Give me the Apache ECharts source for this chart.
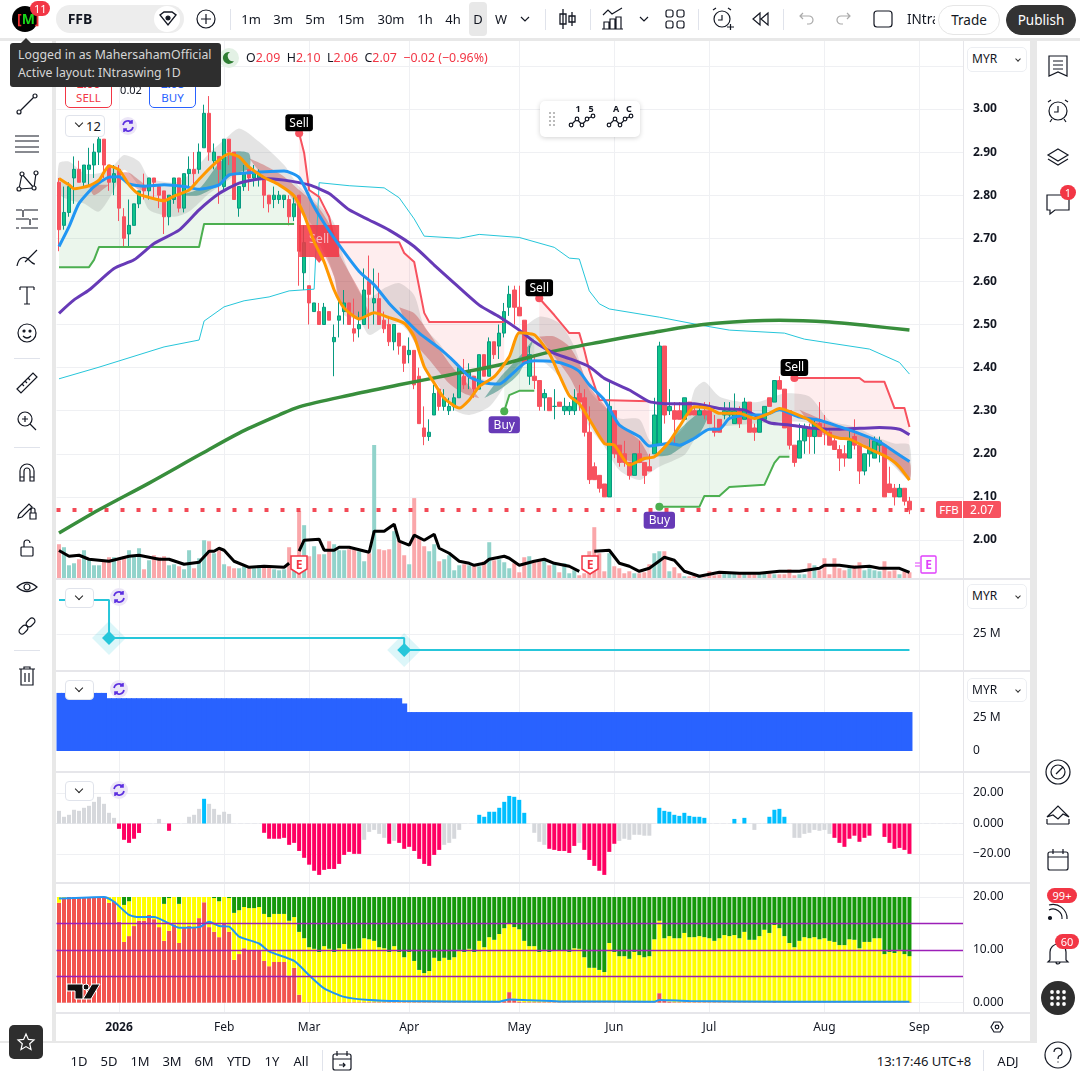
<!DOCTYPE html>
<html><head><meta charset="utf-8"><title>FFB</title>
<script src="https://cdn.jsdelivr.net/npm/echarts@6/dist/echarts.min.js"></script>
<style>
html,body{margin:0;padding:0;width:1080px;height:1080px;overflow:hidden;background:#e8e8e8;font-family:"Noto Sans",sans-serif;color:#131722}
#c{position:absolute;left:0;top:0;width:1080px;height:1080px}
.a{position:absolute;white-space:nowrap}
.t{position:absolute;white-space:nowrap;font-size:13px;line-height:16px;transform:translate(-50%,-50%)}
.w{position:absolute;background:#fff}
.g{position:absolute;background:#e6e6ea}
svg.i{position:absolute;overflow:visible;fill:none;stroke:#131722;stroke-width:1.2}
.sel{position:absolute;left:967px;width:58px;height:23px;border:1px solid #eceef2;border-radius:5px;background:#fff;font-size:12px;line-height:23px;text-indent:3px}
.sel:after{content:"";position:absolute;right:6px;top:9px;width:3px;height:3px;border-right:1px solid #333;border-bottom:1px solid #333;transform:rotate(45deg)}
.chev{position:absolute;left:65px;width:27px;height:18px;border:1px solid #e0e3eb;border-radius:4px;background:#fff}
.chev:after,.c12:after{content:"";position:absolute;left:10px;top:4px;width:5px;height:5px;border-right:1.3px solid #222;border-bottom:1.3px solid #222;transform:rotate(45deg)}
.badge{position:absolute;background:#f23645;color:#fff;border-radius:10px;font-size:11px;line-height:15px;padding:0 4px;text-align:center}
.pill{position:absolute;border-radius:15px;font-size:13.5px;line-height:28px;text-align:center}
</style></head><body>
<div id="c"></div><div id="ui"></div>
<script>
// ---------- values ----------
const barCount = 171;
const slotCount = 182;
const monthTicks = {12:'2026',33:'Feb',50:'Mar',70:'Apr',92:'May',111:'Jun',130:'Jul',153:'Aug',172:'Sep'};

const opens = [2.83,2.73,2.76,2.84,2.86,2.83,2.86,2.87,2.90,2.93,2.87,2.83,2.86,2.75,2.71,2.73,2.78,2.82,2.81,2.84,
2.82,2.81,2.75,2.79,2.84,2.77,2.85,2.86,2.86,2.91,2.99,2.88,2.89,2.82,2.93,2.90,2.77,2.82,2.86,2.84,
2.84,2.84,2.80,2.79,2.79,2.79,2.79,2.75,2.80,2.62,2.59,2.53,2.53,2.50,2.53,2.46,2.51,2.53,2.55,2.49,
2.49,2.50,2.60,2.55,2.56,2.51,2.50,2.46,2.48,2.45,2.43,2.44,2.38,2.26,2.24,2.29,2.35,2.31,2.30,2.31,
2.33,2.38,2.38,2.38,2.35,2.43,2.38,2.46,2.45,2.48,2.54,2.58,2.54,2.51,2.38,2.38,2.37,2.33,2.33,2.31,
2.32,2.30,2.30,2.30,2.34,2.33,2.25,2.17,2.15,2.13,2.10,2.30,2.22,2.20,2.18,2.15,2.20,2.18,2.17,2.20,
2.22,2.45,2.30,2.30,2.30,2.28,2.32,2.30,2.29,2.30,2.30,2.26,2.28,2.29,2.29,2.27,2.30,2.28,2.32,2.26,
2.25,2.28,2.33,2.32,2.37,2.35,2.30,2.22,2.19,2.23,2.26,2.24,2.27,2.26,2.25,2.23,2.21,2.20,2.19,2.24,
2.22,2.16,2.20,2.19,2.22,2.22,2.13,2.12,2.10,2.12,2.09];
const highs = [2.84,2.82,2.83,2.89,2.88,2.87,2.91,2.92,2.95,2.93,2.87,2.87,2.87,2.77,2.79,2.78,2.81,2.85,2.84,2.84,
2.82,2.81,2.80,2.84,2.84,2.85,2.89,2.90,2.92,3.01,3.03,2.92,2.89,2.93,2.93,2.90,2.82,2.87,2.86,2.87,
2.86,2.84,2.80,2.82,2.81,2.80,2.80,2.80,2.80,2.73,2.59,2.55,2.55,2.55,2.53,2.50,2.56,2.58,2.55,2.56,
2.53,2.63,2.66,2.63,2.62,2.53,2.52,2.50,2.48,2.45,2.47,2.44,2.40,2.31,2.28,2.36,2.35,2.35,2.33,2.34,
2.40,2.42,2.41,2.38,2.43,2.43,2.47,2.46,2.50,2.55,2.59,2.59,2.59,2.51,2.45,2.43,2.37,2.35,2.33,2.35,
2.32,2.33,2.32,2.35,2.36,2.35,2.31,2.18,2.15,2.13,2.37,2.30,2.22,2.23,2.18,2.20,2.23,2.18,2.20,2.33,
2.46,2.45,2.35,2.32,2.32,2.33,2.32,2.31,2.31,2.32,2.32,2.29,2.28,2.32,2.32,2.34,2.31,2.33,2.32,2.27,
2.28,2.31,2.33,2.37,2.38,2.35,2.30,2.22,2.27,2.27,2.27,2.28,2.32,2.29,2.26,2.24,2.22,2.22,2.26,2.28,
2.22,2.20,2.24,2.24,2.24,2.22,2.17,2.13,2.13,2.12,2.10];
const lows = [2.67,2.72,2.75,2.78,2.83,2.82,2.82,2.84,2.87,2.84,2.81,2.80,2.74,2.68,2.68,2.73,2.77,2.79,2.79,2.79,
2.77,2.71,2.73,2.78,2.76,2.76,2.82,2.82,2.85,2.91,2.88,2.86,2.78,2.81,2.87,2.79,2.75,2.81,2.81,2.82,
2.82,2.77,2.76,2.77,2.78,2.77,2.73,2.74,2.59,2.58,2.50,2.53,2.50,2.50,2.51,2.38,2.47,2.50,2.50,2.46,
2.47,2.50,2.49,2.50,2.50,2.48,2.45,2.44,2.43,2.39,2.41,2.35,2.27,2.22,2.23,2.29,2.30,2.30,2.29,2.30,
2.33,2.35,2.35,2.33,2.35,2.38,2.38,2.42,2.42,2.47,2.52,2.50,2.52,2.41,2.36,2.35,2.30,2.30,2.30,2.28,
2.31,2.29,2.29,2.29,2.30,2.24,2.13,2.14,2.11,2.10,2.10,2.19,2.17,2.17,2.14,2.15,2.18,2.13,2.16,2.20,
2.22,2.27,2.29,2.22,2.28,2.28,2.29,2.29,2.29,2.28,2.27,2.24,2.25,2.28,2.28,2.27,2.26,2.28,2.25,2.23,
2.25,2.28,2.31,2.32,2.35,2.26,2.21,2.17,2.19,2.20,2.20,2.20,2.24,2.22,2.22,2.21,2.16,2.17,2.19,2.21,
2.13,2.15,2.17,2.19,2.18,2.10,2.11,2.08,2.10,2.08,2.06];
const closes = [2.72,2.76,2.82,2.86,2.83,2.87,2.87,2.90,2.93,2.87,2.83,2.85,2.77,2.70,2.73,2.78,2.81,2.81,2.84,2.83,
2.80,2.75,2.80,2.84,2.77,2.85,2.86,2.85,2.90,2.99,2.90,2.90,2.86,2.93,2.90,2.79,2.82,2.85,2.84,2.85,
2.85,2.80,2.78,2.80,2.80,2.80,2.75,2.78,2.67,2.69,2.55,2.55,2.50,2.54,2.51,2.47,2.52,2.55,2.50,2.48,
2.50,2.58,2.57,2.56,2.50,2.49,2.46,2.50,2.45,2.41,2.44,2.36,2.27,2.24,2.25,2.34,2.31,2.33,2.31,2.33,
2.40,2.36,2.39,2.35,2.43,2.38,2.46,2.43,2.48,2.53,2.57,2.54,2.52,2.41,2.43,2.37,2.31,2.34,2.30,2.31,
2.31,2.31,2.31,2.33,2.32,2.25,2.14,2.14,2.12,2.10,2.31,2.20,2.18,2.18,2.15,2.20,2.18,2.15,2.16,2.29,
2.45,2.29,2.31,2.28,2.28,2.33,2.29,2.29,2.30,2.29,2.27,2.25,2.25,2.30,2.30,2.30,2.27,2.32,2.25,2.25,
2.28,2.31,2.31,2.37,2.35,2.26,2.22,2.18,2.23,2.26,2.24,2.27,2.24,2.25,2.22,2.21,2.19,2.19,2.23,2.22,
2.16,2.20,2.21,2.23,2.23,2.10,2.11,2.10,2.12,2.09,2.07];
const volumes = [34,31,13,15,19,28,18,13,13,17,21,21,18,22,28,23,30,9,18,23,21,22,13,14,12,9,28,10,20,38,
37,25,28,14,12,10,10,12,10,10,13,12,12,9,8,9,31,8,67,53,22,32,24,24,37,34,28,28,29,29,
27,17,25,133,29,28,29,47,38,23,14,80,40,32,27,34,17,19,23,8,13,14,13,13,12,17,36,18,19,16,
10,15,6,21,22,18,18,18,13,15,6,15,5,8,3,5,27,51,25,7,25,12,10,5,7,5,5,6,14,25,
27,27,7,11,5,2,2,3,2,1,7,3,4,6,6,6,5,5,5,4,5,6,5,4,4,4,9,3,4,4,15,13,8,20,4,20,10,8,10,13,16,8,10,8,7,17,7,8,4,7,6];
const volumeAvgA = [[0,27.7],[2,22],[4,23],[6,19],[10,17],[14,22],[16,23],[20,19],[22,19],[25,14],[28,16],[30,27],[31,27],[32,30],[33,28],[35,17],[38,11],[41,12],[45,11],[46,15]];
const volumeAvgB = [[48,27],[49,38],[52,39],[53,28],[55,28],[56,31],[58,31],[62,26],[63,47],[65,47],[67,54],[68,37],[70,33],[71,43],[73,38],[75,44],[76,30],[78,25],[80,17],[82,15],[83,13],[85,15],[86,19],[89,22],[90,20],[92,13],[95,17],[97,19],[99,15],[102,12],[104,7]];
const volumeAvgC = [[107,27],[110,28],[112,15],[114,12],[116,7],[118,10],[121,21],[123,18],[125,7],[128,2],[132,6],[136,5],[140,5],[144,7],[148,7],[152,10],[153,13],[156,13],[159,11],[162,12],[164,10],[168,10],[170,6]];

const orangeLine = [[0,2.839],[2,2.824],[3,2.815],[6,2.822],[8,2.835],[10,2.868],[12,2.859],[14,2.824],[16,2.802],[18,2.795],[21,2.787],[23,2.798],[26,2.812],[28,2.837],[31,2.872],[34,2.896],[36,2.889],[38,2.865],[41,2.841],[44,2.824],[47,2.798],[49,2.754],[51,2.692],[53,2.645],[55,2.580],[57,2.538],[60,2.513],[63,2.527],[66,2.516],[69,2.503],[71,2.472],[73,2.402],[75,2.364],[77,2.329],[80,2.306],[82,2.325],[84,2.356],[87,2.379],[90,2.425],[92,2.481],[95,2.476],[98,2.433],[100,2.383],[102,2.335],[104,2.316],[106,2.280],[109,2.224],[111,2.220],[114,2.174],[117,2.189],[119,2.193],[122,2.228],[124,2.263],[127,2.309],[130,2.305],[132,2.294],[136,2.294],[139,2.282],[142,2.294],[144,2.305],[147,2.294],[150,2.278],[154,2.244],[156,2.236],[158,2.234],[161,2.217],[164,2.201],[166,2.189],[168,2.170],[170,2.139]];
const blueLine = [[0,2.681],[2,2.727],[4,2.781],[7,2.820],[10,2.842],[12,2.843],[14,2.826],[17,2.821],[21,2.824],[25,2.820],[28,2.814],[32,2.824],[34,2.847],[38,2.852],[45,2.856],[48,2.841],[51,2.773],[53,2.735],[56,2.684],[60,2.623],[63,2.592],[66,2.549],[69,2.514],[72,2.480],[76,2.445],[79,2.414],[82,2.379],[85,2.365],[88,2.362],[90,2.379],[93,2.410],[95,2.416],[99,2.414],[102,2.404],[104,2.391],[106,2.360],[109,2.325],[112,2.267],[116,2.240],[118,2.218],[122,2.224],[124,2.220],[127,2.236],[130,2.257],[132,2.257],[134,2.282],[138,2.290],[141,2.290],[144,2.302],[148,2.285],[152,2.278],[156,2.263],[160,2.247],[164,2.228],[167,2.205],[170,2.182]];
const purpleLine = [[0,2.526],[3,2.557],[6,2.580],[11,2.630],[15,2.650],[19,2.688],[24,2.719],[28,2.766],[32,2.804],[36,2.828],[41,2.839],[45,2.835],[50,2.824],[54,2.804],[58,2.766],[62,2.7425],[66,2.719],[71,2.681],[75,2.638],[79,2.596],[84,2.545],[88,2.518],[92,2.487],[95,2.460],[99,2.433],[102,2.421],[106,2.402],[109,2.375],[114,2.348],[118,2.321],[122,2.316],[127,2.316],[132,2.305],[137,2.302],[142,2.272],[146,2.267],[151,2.259],[156,2.257],[160,2.259],[164,2.261],[168,2.257],[170,2.244]];
const greenTrend = [[0,2.016],[8,2.07],[18,2.132],[28,2.197],[36,2.248],[44,2.29],[48,2.309],[58,2.336],[68,2.36],[78,2.383],[88,2.406],[98,2.436],[108,2.459],[118,2.48],[128,2.499],[138,2.508],[144,2.51],[154,2.506],[162,2.497],[170,2.487]];
const cyanLine = [[0,2.374],[8,2.401],[21,2.448],[28,2.464],[29,2.508],[33,2.541],[37,2.555],[42,2.564],[46,2.578],[51,2.582],[52,2.829],[58,2.822],[65,2.817],[68,2.794],[71,2.745],[73,2.705],[80,2.70],[84,2.709],[92,2.702],[99,2.679],[102,2.654],[104,2.652],[106,2.578],[108,2.548],[110,2.536],[120,2.517],[128,2.499],[134,2.487],[145,2.48],[149,2.466],[162,2.443],[168,2.412],[170,2.385]];
const redStopA = [[48,2.944],[49,2.898],[50,2.812],[52,2.796],[53,2.773],[54,2.75],[55,2.696],[56,2.691],[68,2.691],[69,2.666],[71,2.645],[73,2.527],[74,2.506],[89,2.506]];
const redStopB = [[96,2.561],[99,2.522],[102,2.48],[104,2.48],[105,2.441],[106,2.394],[108,2.325],[118,2.322]];
const redStopC = [[147,2.376],[160,2.376],[161,2.367],[165,2.367],[167,2.306],[169,2.306],[170,2.262]];
const greenStopA = [[0,2.633],[6,2.633],[7,2.65],[8,2.68],[28,2.68],[29,2.733],[47,2.733]];
const greenStopB = [[89,2.299],[90,2.336],[92,2.346],[95,2.346]];
const greenStopC = [[120,2.077],[128,2.077],[129,2.102],[132,2.102],[134,2.123],[141,2.128],[143,2.179],[144,2.193],[146,2.193]];
// [bar, upper, lower]
const grayCloud = [[0,2.874,2.804],[2,2.878,2.789],[5,2.851,2.781],[8,2.851,2.762],[11,2.870,2.812],[13,2.893,2.859],[16,2.878,2.820],[18,2.841,2.766],[23,2.829,2.750],[26,2.847,2.762],[30,2.897,2.804],[33,2.928,2.828],[36,2.955,2.851],[40,2.924,2.847],[45,2.870,2.820],[48,2.820,2.773],[52,2.777,2.704],[55,2.735,2.611],[57,2.650,2.522],[60,2.576,2.510],[62,2.561,2.476],[65,2.584,2.495],[68,2.596,2.503],[71,2.568,2.464],[73,2.495,2.402],[76,2.456,2.356],[79,2.410,2.302],[82,2.387,2.290],[86,2.371,2.309],[89,2.402,2.356],[92,2.480,2.410],[96,2.518,2.418],[100,2.503,2.379],[103,2.449,2.325],[106,2.348,2.263],[109,2.309,2.217],[112,2.282,2.162],[116,2.280,2.139],[118,2.232,2.155],[120,2.220,2.170],[125,2.263,2.197],[127,2.348,2.232],[129,2.367,2.255],[132,2.333,2.263],[136,2.321,2.267],[140,2.321,2.271],[145,2.340,2.275],[150,2.333,2.271],[154,2.278,2.240],[159,2.263,2.232],[164,2.236,2.201],[167,2.224,2.170],[170,2.220,2.139]];
const roseBandA = [[6,2.82,2.82],[7,2.824,2.80],[10,2.824,2.824]];
const roseBandB = [[12,2.854,2.854],[14,2.852,2.831],[16,2.835,2.812],[18,2.816,2.816]];
const roseBandC = [[38,2.886,2.886],[41,2.870,2.843],[45,2.843,2.816],[48,2.812,2.766],[52,2.770,2.688],[55,2.712,2.611],[56,2.665,2.557],[60,2.580,2.510],[62,2.526,2.526]];
const roseBandD = [[68,2.540,2.540],[71,2.526,2.460],[74,2.480,2.418],[78,2.410,2.363],[81,2.371,2.340],[84,2.329,2.329]];
const roseBandE = [[96,2.472,2.472],[99,2.472,2.425],[102,2.449,2.379],[104,2.410,2.333],[106,2.356,2.278],[109,2.313,2.224],[112,2.267,2.193],[116,2.232,2.178],[118,2.193,2.193]];
const roseBandF = [[148,2.302,2.302],[152,2.282,2.247],[157,2.259,2.236],[161,2.240,2.217],[166,2.213,2.187],[170,2.182,2.139]];
const tealBandA = [[24,2.80,2.80],[28,2.815,2.80],[32,2.874,2.824],[35,2.901,2.85],[38,2.897,2.862]];
const tealBandB = [[85,2.329,2.329],[88,2.375,2.348],[92,2.425,2.387],[95,2.468,2.468]];
const tealBandC = [[119,2.193,2.193],[122,2.232,2.197],[125,2.267,2.220],[128,2.294,2.247],[130,2.290,2.290]];

const sellSignals = [[48,2.944],[96,2.561],[147,2.376]];
const buySignals = [[89,2.299],[120,2.077]];
const bigSell = [[52,2.687]];
const lastPrice = 2.07;

const cyanStep = [[0,48.6],[10,48.6],[10,22.2],[69,22.2],[69,13.9],[170,13.9]];
const cyanDiamonds = [[10,22.2],[69,13.9]];
const blueBlockSegments = [[10,44],[59,40],[1,36],[101,29.5]];

const histValues = [8.3,4.4,5.7,9,8.3,10.3,11.6,14.2,17.5,12.9,7,3.7,-3.5,-10.7,-12.7,-10,-6.2,0,0,0,3,0,-4.8,0,0,0,4.4,5.7,9.6,16.2,
12.9,9.6,5.7,7.7,6.3,0,0,0,0,0,0,-6.1,-10,-10,-10,-9.4,-14,-12.7,-18,-22.5,-27,-31,-33.7,-30.4,-29.8,-29.8,-26.5,-20.6,-18.6,-19.9,
-19.9,-10.7,-5.5,-4.2,-6.8,-9.4,-13.3,-11.4,-12.7,-16.6,-15.3,-18,-23.2,-26.5,-27.8,-20.6,-17.3,-14,-12.7,-10,-4.2,0,0,0,5.7,4.4,7.7,7.7,10.3,14.2,
18.1,17.5,15.5,7,0,-6.1,-12,-14,-16.6,-17.3,-18,-18,-19.3,-14.7,-12.7,-17.3,-23.9,-27.8,-31,-33.7,-18.6,-13.3,-11.4,-10,-10.7,-7.4,-7.4,-8,-8,0,
10.3,8.3,7.7,5.7,5,7,5,4.4,4.4,3.7,0,0,0,0,0,3,0,3.7,0,-4.2,0,0,4.4,9,9.6,4.4,0,-9.4,-9.4,-6.8,-6.1,-4.2,-4.8,-4.2,-6.8,-9.4,-12.7,-15.3,-10,-8,-12,-9.4,-8,0,0,-8.8,-12.7,-16.6,-16,-17.3,-19.9];
const histGrayBars = [0,1,2,3,4,5,6,7,8,9,10,11,20,26,27,28,30,31,32,33,34,61,62,63,64,65,67,77,78,79,80,95,96,97,104,112,113,114,115,116,117,118,139,147,148,149,150,151,152,153,154];

const redShare = [18.9,19.7,20,20,20,20,20,20,20,20,18.9,19.2,15.3,11.5,12.6,14.5,15.5,15.5,16.6,15.8,14.3,11.7,13.6,14.7,11.3,14.3,14.5,14.3,16,19,
14.3,13.4,12.4,14.9,13.4,8.1,9.2,10.3,9.8,9.8,
10,7.9,6.9,7.7,7.7,7.7,5,6.6,1.5,0.1,
0.1,0.1,0.1,0.1,0.1,0.1,0.1,0.1,0.1,0.1,
0.1,0.1,0.1,0.1,0.1,0.1,0.1,0.1,0.1,0.1,
0.1,0.1,0.1,0.1,0.1,0.1,0.1,0.1,0.1,0.1,
0.1,0.1,0.1,0.1,0.1,0.1,0.1,0.1,0.1,0.3,
2,0.8,0.2,0.1,0.1,0.1,0.1,0.1,0.1,0.1,
0.1,0.1,0.1,0.1,0.1,0.1,0.1,0.1,0.1,0.1,
0.1,0.1,0.1,0.1,0.1,0.1,0.1,0.1,0.1,0.1,
1.8,0.5,0.2,0.1,0.1,0.1,0.1,0.1,0.1,0.1,
0.1,0.1,0.1,0.1,0.1,0.1,0.1,0.1,0.1,0.1,
0.1,0.1,0.1,0.2,0.1,0.1,0.1,0.1,0.1,0.1,
0.1,0.1,0.1,0.1,0.1,0.1,0.1,0.1,0.1,0.1,
0.1,0.1,0.1,0.1,0.1,0.1,0.1,0.1,0.1,0.1,
0.1];
const yellowTop = [20,20,20,20,20,20,20,20,20,20,20,20,20,18.5,19.2,20,20,20,20,20,20,18.7,19.8,20,18.7,20,20,20,20,20,
20,19.8,19.2,20,19.8,17,17.5,18.1,17.9,17.9,18.1,16.8,16.2,16.8,16.8,16.8,15.5,16.2,13.4,12.2,10.5,10.2,9.6,10.7,10.2,9.6,10.3,11.1,10.2,10.2,
10.3,12.2,12,11.7,10.5,10.3,9.6,10.7,9.6,8.6,9.6,7.9,6.2,5.6,6,8.5,7.9,8.5,8.1,8.6,10,9.6,10.2,9.6,11.7,10.5,12.4,11.9,13,14.1,
14.9,14.3,13.9,11.7,10.7,10.7,9.6,10,9.6,9.8,9.8,9.8,9.6,10.3,10.2,8.6,6.6,6.6,6.2,5.8,11.3,9.6,8.8,8.8,8.3,9.6,9,8.6,8.8,12,
15.5,12.2,12.6,12.2,12.2,13.2,12.4,12.4,12.6,12.4,12.2,11.7,12.2,12.8,12.6,12.8,12.2,13.4,11.9,11.9,12.6,13.8,13.2,14.7,14.1,12.6,11.3,10.5,11.7,12.4,12.2,12.4,12,12.2,11.7,11.5,10.9,10.9,12,11.9,10.3,11.5,11.5,12.2,12.2,9.2,9.6,9.4,10,9.2,8.8];
const flowLine = [[0,19.7],[9,20],[11,19.1],[14,16.6],[16,16.2],[19,16.2],[22,15],[24,14.2],[28,14.3],[30,15.3],[32,14.5],[34,14.4],[36,12.5],[40,11.2],[42,9.7],[47,7.9],[50,5.2],[53,2.7],[57,1.1],[62,0.5],[68,0.3],[88,0.2],[90,0.6],[94,0.45],[100,0.25],[119,0.2],[120,0.5],[126,0.3],[146,0.2],[170,0.2]];
const flowLevels = [15,10,5];

// ---------- chart ----------
const CAT = Array.from({length:slotCount},(_,i)=>String(i));
const GL = 56.5, GW = 910.5;
const RED='#f7525f', GRN='#4caf50';
const grids = [
 {top:41,height:972},          // vertical month lines
 {top:22.8,height:560.3},      // price
 {top:438,height:140.3},       // volume
 {top:598,height:72},          // cyan step
 {top:685,height:66},          // blue block
 {top:793,height:91.5},        // histogram
 {top:897,height:105.7}        // stacked
].map(g=>({left:GL,width:GW,containLabel:false,...g}));
const xAxes = grids.map((g,i)=>({type:'category',gridIndex:i,data:CAT,boundaryGap:true,show:false,axisTick:{show:false},axisLabel:{show:false},splitLine:{show:false}}));
const isTick=i=>monthTicks[i]!==undefined;
Object.assign(xAxes[0],{show:true,axisLine:{show:false},axisLabel:{show:false},
  splitLine:{show:true,alignWithLabel:true,interval:(i)=>isTick(i),lineStyle:{color:'#eff0f3',width:1}}});
Object.assign(xAxes[5],{show:true,axisLine:{show:true,onZero:true,lineStyle:{color:'#e8e9ee',type:[4,3],width:1}},axisLabel:{show:false}});
Object.assign(xAxes[6],{show:true,axisLine:{show:false},
  axisLabel:{show:true,interval:(i)=>isTick(i),margin:19,hideOverlap:false,color:'#131722',fontSize:12,fontFamily:'Noto Sans',
    formatter:(v,i)=>monthTicks[i]==='2026'?'{b|2026}':(monthTicks[i]||''),rich:{b:{fontWeight:'bold',fontSize:12,color:'#131722',fontFamily:'Noto Sans'}}}});
const split={show:true,lineStyle:{color:'#eff0f3',width:1}};
const lbl=(f,b)=>({show:true,color:'#131722',fontSize:12,margin:6,padding:[2,0,0,0],fontFamily:'Noto Sans',fontWeight:b?'bold':'normal',formatter:f,align:'left'});
const yAxes=[
 {type:'value',gridIndex:0,min:0,max:1,show:false,splitLine:{show:false}},
 {type:'value',gridIndex:1,position:'right',min:1.9,max:3.2,interval:0.1,axisLine:{show:false},axisTick:{show:false},
  axisLabel:{...lbl(v=>v.toFixed(2),true),showMinLabel:false},splitLine:{...split,showMinLine:false,showMaxLine:false}},
 {type:'value',gridIndex:2,min:0,max:140,show:false,splitLine:{show:false}},
 {type:'value',gridIndex:3,position:'right',min:0,max:50,interval:25,axisLine:{show:false},axisTick:{show:false},
  axisLabel:lbl(v=>v===25?'25 M':''),splitLine:{...split,showMinLine:false,showMaxLine:false}},
 {type:'value',gridIndex:4,position:'right',min:0,max:50,interval:25,axisLine:{show:false},axisTick:{show:false},
  axisLabel:lbl(v=>v===25?'25 M':v===0?'0':''),splitLine:{show:false}},
 {type:'value',gridIndex:5,position:'right',min:-40,max:20,interval:20,axisLine:{show:false},axisTick:{show:false},
  axisLabel:lbl(v=>v===20?'20.00':v===0?'0.000':v===-20?'\u221220.00':''),splitLine:{...split,showMinLine:false}},
 {type:'value',gridIndex:6,position:'right',min:0,max:20,interval:10,axisLine:{show:false},axisTick:{show:false},
  axisLabel:lbl(v=>v===0?'0.000':v.toFixed(2)),splitLine:split}
];
// filled bands drawn through the axes
const polygon=(pts,fill,z,sm)=>({type:'custom',xAxisIndex:1,yAxisIndex:1,coordinateSystem:'cartesian2d',silent:true,z,data:[[0,2.5]],clip:true,
  renderItem:(p,api)=>({type:'polygon',shape:{points:pts.map(q=>api.coord(q)),smooth:sm||0},style:{fill}})});
const band=(rows,fill,z=1)=>polygon([...rows.map(r=>[r[0],r[1]]),...rows.slice().reverse().map(r=>[r[0],r[2]])],fill,z,0.25);
const between=(upper,lower,fill)=>{const a=upper[0][0],b=upper[upper.length-1][0];
  const inner=lower.filter(q=>q[0]>a&&q[0]<b);
  const at=(arr,x)=>{for(let k=1;k<arr.length;k++){if(arr[k][0]>=x){const t=(x-arr[k-1][0])/(arr[k][0]-arr[k-1][0]);return arr[k-1][1]+t*(arr[k][1]-arr[k-1][1]);}}return arr[arr.length-1][1];};
  const low=[[a,at(lower,a)],...inner,[b,at(lower,b)]];
  return polygon([...upper,...low.reverse()],fill,1);};
const line=(data,color,width,z=5,extra={})=>({type:'line',xAxisIndex:1,yAxisIndex:1,data,symbol:'none',silent:true,z,lineStyle:{color,width,join:'round'},...extra});
const smooth={smooth:0.2};
const pRed='rgba(242,54,69,0.09)', pGrn='rgba(76,175,80,0.11)', gray='rgba(110,110,110,0.19)', rose='rgba(190,50,50,0.36)', teal='rgba(0,110,95,0.42)';

const series=[
 band(grayCloud,gray,2),
 between(greenStopA,orangeLine,pGrn), between(greenStopB,orangeLine,pGrn), between(greenStopC,orangeLine,pGrn),
 between(redStopA,orangeLine,pRed), between(redStopB,orangeLine,pRed), between(redStopC,orangeLine,pRed),
 band(roseBandA,rose,2),band(roseBandB,rose,2),band(roseBandC,rose,2),band(roseBandD,rose,2),band(roseBandE,rose,2),band(roseBandF,rose,2),
 band(tealBandA,teal,2),band(tealBandB,teal,2),band(tealBandC,teal,2),
 {type:'bar',xAxisIndex:2,yAxisIndex:2,barWidth:4,silent:true,z:1,
  data:volumes.map((v,i)=>({value:v,itemStyle:{color:closes[i]>=opens[i]?'#92d3cb':'#faa7aa'}}))},
 {type:'candlestick',xAxisIndex:1,yAxisIndex:1,barWidth:4,silent:true,z:3,
  data:opens.map((o,i)=>[o,closes[i],lows[i],highs[i]]),
  itemStyle:{color:'#0fc489',color0:RED,borderColor:'#089981',borderColor0:RED,borderWidth:1}},
 {type:'scatter',xAxisIndex:1,yAxisIndex:1,data:bigSell,silent:true,z:4,symbol:'path://M0,0H40V32H25L20,38L15,32H0Z',symbolSize:[40,38],
  itemStyle:{color:'rgba(242,54,69,0.86)',opacity:1},label:{show:true,position:'inside',offset:[0,-4],formatter:'Sell',color:'rgba(255,255,255,0.6)',fontSize:12.5,fontFamily:'Noto Sans'}},
 line(cyanLine,'#26c6da',1,4),
 line(redStopA,RED,2,4),line(redStopB,RED,2,4),line(redStopC,RED,2,4),
 line(greenStopA,GRN,2,4),line(greenStopB,GRN,2,4),line(greenStopC,GRN,2,4),
 line(greenTrend,'#388e3c',3.5,5,{smooth:0.3}),
 line(purpleLine,'#673ab7',3,5,smooth),
 line(blueLine,'#2196f3',3,6,smooth),
 line(orangeLine,'#ff9800',3,6,smooth),
 {type:'line',xAxisIndex:2,yAxisIndex:2,data:volumeAvgA,symbol:'none',silent:true,z:5,lineStyle:{color:'#000',width:3}},
 {type:'line',xAxisIndex:2,yAxisIndex:2,data:volumeAvgB,symbol:'none',silent:true,z:5,lineStyle:{color:'#000',width:3}},
 {type:'line',xAxisIndex:2,yAxisIndex:2,data:volumeAvgC,symbol:'none',silent:true,z:5,lineStyle:{color:'#000',width:3}},
 {type:'line',xAxisIndex:1,yAxisIndex:1,data:[],silent:true,z:5,
  markLine:{silent:true,symbol:'none',animation:false,label:{show:false},lineStyle:{color:'#f23645',type:[4,12],width:4,opacity:0.9},data:[{yAxis:lastPrice}]}},
 {type:'scatter',xAxisIndex:1,yAxisIndex:1,data:sellSignals,silent:true,z:8,symbolSize:8,itemStyle:{color:RED,opacity:1},
  label:{show:true,opacity:1,position:'top',distance:-2,formatter:'Sell',color:'#fff',backgroundColor:'#000',borderRadius:3,padding:[3,4,2,4],fontSize:12,fontFamily:'Noto Sans'}},
 {type:'scatter',xAxisIndex:1,yAxisIndex:1,data:buySignals,silent:true,z:8,symbolSize:8,itemStyle:{color:GRN,opacity:1},
  label:{show:true,opacity:1,position:'bottom',distance:1,formatter:'Buy',color:'#fff',backgroundColor:'#673ab7',borderRadius:3,padding:[3,5,2,5],fontSize:12,fontFamily:'Noto Sans'}},
 {type:'line',xAxisIndex:3,yAxisIndex:3,data:cyanStep,symbol:'none',silent:true,z:3,lineStyle:{color:'#26c6da',width:2}},
 {type:'scatter',xAxisIndex:3,yAxisIndex:3,data:cyanDiamonds,silent:true,z:2,symbol:'diamond',symbolSize:34,itemStyle:{color:'rgba(38,198,218,0.16)',opacity:1}},
 {type:'scatter',xAxisIndex:3,yAxisIndex:3,data:cyanDiamonds,silent:true,z:4,symbol:'diamond',symbolSize:14,itemStyle:{color:'#26c6da',opacity:1}},
 {type:'bar',xAxisIndex:4,yAxisIndex:4,barWidth:6,silent:true,z:2,itemStyle:{color:'#2962ff'},
  data:blueBlockSegments.flatMap(s=>Array(s[0]).fill(s[1]))},
 {type:'bar',xAxisIndex:5,yAxisIndex:5,barWidth:4,silent:true,z:3,
  data:histValues.map((v,i)=>({value:v,itemStyle:{color:histGrayBars.includes(i)?'#d6d8dc':(v>0?'#00bfff':'#ff0062')}}))},
 {type:'bar',xAxisIndex:6,yAxisIndex:6,stack:'flow',barWidth:4,silent:true,z:2,itemStyle:{color:'#f2544f'},data:redShare},
 {type:'bar',xAxisIndex:6,yAxisIndex:6,stack:'flow',barWidth:4,silent:true,z:2,itemStyle:{color:'#ffff00'},data:yellowTop.map((v,i)=>Math.max(v-redShare[i],0))},
 {type:'bar',xAxisIndex:6,yAxisIndex:6,stack:'flow',barWidth:4,silent:true,z:2,itemStyle:{color:'#15990a'},data:yellowTop.map(v=>20-v)},
 {type:'line',xAxisIndex:6,yAxisIndex:6,data:flowLine,symbol:'none',silent:true,z:4,smooth:0.2,lineStyle:{color:'#2196f3',width:2},
  markLine:{silent:true,symbol:'none',animation:false,label:{show:false},lineStyle:{color:'#9c1fb8',type:'solid',width:1.3},data:flowLevels.map(v=>({yAxis:v}))}}
];
const chart=echarts.init(document.getElementById('c'),null,{renderer:'canvas'});
chart.setOption({animation:false,backgroundColor:'#ffffff',grid:grids,xAxis:xAxes,yAxis:yAxes,series,tooltip:{show:false},legend:{show:false}});

// ---------- surrounding interface ----------
const ui=document.getElementById('ui');
const add=h=>ui.insertAdjacentHTML('beforeend',h);
const box=(c,x,y,w,h,extra='')=>add(`<div class="${c}" style="left:${x}px;top:${y}px;width:${w}px;height:${h}px;${extra}"></div>`);
const text=(s,x,y,st='')=>add(`<div class="t" style="left:${x}px;top:${y}px;${st}">${s}</div>`);
const ic=(x,y,inner,st='')=>add(`<svg class="i" width="24" height="24" viewBox="-12 -12 24 24" style="left:${x-12}px;top:${y-12}px;${st}">${inner}</svg>`);
// frame
box('w',0,0,1080,38); box('g',0,38,1080,3,'background:#e8e8e8');
box('w',0,41,52,1002); box('g',52,41,4,1002,'background:#e8e8e8');
box('w',1037,41,43,1002); box('g',1030,41,7,1002,'background:#e8e8e8');
box('w',0,1043,1037,37); box('g',0,1041,1037,2,'background:#e8e8e8');
box('g',963,41,1,972); box('w',964,41,4,972);
[578,670,771,882,1012].forEach(y=>box('g',56,y,974,2));
// top bar
add('<div class="a" style="left:12px;top:6px;width:26px;height:26px;border-radius:50%;background:#000"><div style="position:absolute;left:5px;top:3px;color:#19d419;font:bold 14px \'Noto Sans\'"><span style="color:#e33">[</span>M<span style="color:#e33">]</span></div></div>');
add('<div class="badge" style="left:30px;top:1px;width:12px">11</div>');
box('a',56,5,128,28,'background:#ededed;border-radius:14px');
text('FFB',80,19,'font-weight:bold;font-size:14px');
box('a',154,6,26,26,'background:#fff;border-radius:13px');
ic(168,19,'<path d="M-8,-4L-4,-7H4L8,-4L0,6Z" stroke-width="1.4"/><circle r="2" cy="-1" fill="#131722"/>');
ic(206,19,'<circle r="9"/><path d="M-5,0H5M0,-5V5"/>');
[[230],[545],[590],[698],[783]].forEach(v=>box('g',v[0],9,1,21,'background:#e0e3eb'));
box('a',469,2,18,34,'background:#e8e8e8;border-radius:4px');
[['1m',251],['3m',283],['5m',315],['15m',351],['30m',391],['1h',425],['4h',453],['D',478],['W',501]].forEach(a=>text(a[0],a[1],19));
const chev=(x,y)=>ic(x,y,'<path d="M-4,-2L0,2L4,-2"/>');
chev(525,19);chev(644,19);
ic(568,19,'<path d="M-5,-10V10M-8,-5H-2V5H-8ZM4,-7V7M1,-3H7V3H1Z" stroke-width="1.3"/>');
ic(613,19,'<path d="M-10,-4L-5,-9L-1,-5L9,-11M-9,10V3H-4V10M-3,10V0H2V10M3,10V-2H8V10M-11,10H10"/>');
ic(675,19,'<rect x="-9" y="-9" width="7" height="7" rx="2"/><rect x="2" y="-9" width="7" height="7" rx="2"/><rect x="-9" y="2" width="7" height="7" rx="2"/><rect x="2" y="2" width="7" height="7" rx="2"/>');
ic(722,19,'<circle r="8"/><path d="M0,-4V1H-4M-9,-9L-6,-11M9,-9L6,-11M5,8H12M8.5,5V11"/>');
ic(760,19,'<path d="M0,-6L-7,0L0,6ZM8,-6L1,0L8,6Z"/>');
ic(806,19,'<path d="M-6,-3H3A4,4 0 0 1 3,5H1M-3,-6L-6,-3L-3,0" stroke="#aaa"/>');
ic(844,19,'<path d="M6,-3H-3A4,4 0 0 0 -3,5H-1M3,-6L6,-3L3,0" stroke="#aaa"/>');
ic(883,19,'<rect x="-9" y="-8" width="18" height="16" rx="3"/>');
add('<div class="a" style="left:907px;top:11px;width:28px;overflow:hidden;font-size:13.5px;line-height:16px">INtraswing 1D</div>');
add('<div class="pill" style="left:938px;top:5px;width:60px;border:1px solid #e6e6e6;background:#fff">Trade</div>');
add('<div class="pill" style="left:1006px;top:5px;width:68px;height:28px;background:#333;color:#fff;border:1px solid #333">Publish</div>');
// legend row
add('<div class="a" style="left:246px;top:50px;font-size:12.4px;line-height:16px;color:#131722">O<span style="color:#f23645">2.09</span>&nbsp; H<span style="color:#f23645">2.10</span>&nbsp; L<span style="color:#f23645">2.06</span>&nbsp; C<span style="color:#f23645">2.07</span>&nbsp; <span style="color:#f23645">\u22120.02 (\u22120.96%)</span></div>');
box('a',219,48,20,20,'background:#e3f1e5;border-radius:10px');
ic(228,58,'<path d="M2,-6A6,6 0 1 0 6,3A5,5 0 0 1 2,-6Z" fill="#2e7d32" stroke="none"/>');
// buy/sell
add('<div class="a" style="left:65px;top:70px;width:45px;height:36px;border:1px solid #f23645;border-radius:5px;background:#fff;text-align:center;color:#f23645;font-size:11.5px;line-height:14px"><div style="margin-top:6px;font-weight:bold">2.06</div>SELL</div>');
add('<div class="a" style="left:149px;top:70px;width:45px;height:36px;border:1px solid #2962ff;border-radius:5px;background:#fff;text-align:center;color:#2962ff;font-size:11.5px;line-height:14px"><div style="margin-top:6px;font-weight:bold">2.08</div>BUY</div>');
text('0.02',131,90,'font-size:11px');
add('<div class="a c12" style="left:65px;top:115px;width:38px;height:20px;border:1px solid #e0e3eb;border-radius:4px;background:#fff;font-size:13px;line-height:20px;text-indent:20px"><span></span>12</div>');
const refresh=(x,y)=>{add(`<div class="a" style="left:${x-9}px;top:${y-9}px;width:18px;height:18px;border-radius:50%;background:#ece6f7"></div>`);
 ic(x,y,'<path d="M-5,-1A5,5 0 0 1 4,-3M5,1A5,5 0 0 1 -4,3M4,-6V-3H1M-4,6V3H-1" stroke="#5c2fe0" stroke-width="1.6"/>');};
refresh(128,126);
[588,680,781].forEach(y=>{box('chev',65,y,27,18);refresh(119,y+9);});
// tooltip
add('<div class="a" style="left:10px;top:43px;width:203px;height:41px;padding:3px 0 0 8px;background:#2e2e2e;color:#d6d6d6;font-size:12.3px;line-height:18px;border-radius:3px">Logged in as MahersahamOfficial<br>Active layout: INtraswing 1D</div>');
add('<div class="a" style="left:21px;top:38px;width:0;height:0;border-left:5px solid transparent;border-right:5px solid transparent;border-bottom:5px solid #2e2e2e"></div>');
// floating wave widget
add('<div class="a" style="left:540px;top:101px;width:100px;height:36px;background:#fff;border-radius:5px;box-shadow:0 1px 5px rgba(0,0,0,.18)"></div>');
ic(552,119,'<path d="M-2,-7V7M2,-7V7" stroke="#bbb" stroke-width="2" stroke-dasharray="2 2"/>');
[[582,'1','5'],[620,'A','C']].forEach(w=>{ic(w[0],120,'<path d="M-11,5L-5,-1L0,5L5,-1L11,-4"/><circle cx="-11" cy="5" r="1.8" fill="#fff"/><circle cx="-5" cy="-1" r="1.8" fill="#fff"/><circle cx="0" cy="5" r="1.8" fill="#fff"/><circle cx="5" cy="-1" r="1.8" fill="#fff"/><circle cx="11" cy="-4" r="1.8" fill="#fff"/>');
 text(w[1],w[0]-4,109,'font-size:9px;font-weight:bold');text(w[2],w[0]+9,109,'font-size:9px;font-weight:bold');});
// axis selectors and price tag
box('sel',967,47,58,23); box('sel',967,584,58,23); box('sel',967,678,58,22);
[[47],[584],[678]].forEach(v=>add(`<div class="a" style="left:972px;top:${v[0]+4}px;font-size:12px;line-height:16px">MYR</div>`));
add('<div class="a" style="left:936px;top:501px;width:26px;height:17px;background:#f7525f;color:#fff;font-size:11.5px;line-height:17px;text-align:center;border-radius:2px 0 0 2px">FFB</div>');
add('<div class="a" style="left:963px;top:501px;width:38px;height:17px;background:#f7525f;color:#fff;font-size:12px;line-height:17px;text-align:center;border-radius:0 2px 2px 0">2.07</div>');
// earnings marks
const shield=(x,col)=>add(`<svg class="a" width="20" height="22" style="left:${x-10}px;top:554px"><path d="M2,2H18V15L10,20L2,15Z" fill="#fff" stroke="${col}" stroke-width="1.5"/><text x="10" y="15" text-anchor="middle" font-size="12" font-weight="bold" fill="${col}" font-family="Noto Sans">E</text></svg>`);
shield(299,'#f23645');shield(590,'#f23645');
add('<svg class="a" width="24" height="22" style="left:914px;top:554px"><rect x="7" y="2" width="15" height="17" rx="1" fill="#fff" stroke="#e040fb" stroke-width="1.4"/><text x="14.5" y="15" text-anchor="middle" font-size="12" font-weight="bold" fill="#e040fb" font-family="Noto Sans">E</text><path d="M1,9H6M1,12H6" stroke="#e040fb"/></svg>');
// logo
add('<svg class="a" width="34" height="18" style="left:67px;top:983px"><path d="M0,1H16V16H8V8H0ZM19,1A3,3 0 1 1 19,7A3,3 0 1 1 19,1ZM25,1H33L24,16H16Z" fill="#111" stroke="#fff" stroke-width="1"/></svg>');
// hex at time axis
ic(997,1027,'<path d="M-6,0L-3,-5H3L6,0L3,5H-3Z"/><circle r="1.8"/>');
// left toolbar
ic(27,104,'<path d="M-8,8L8,-8"/><circle cx="-8" cy="8" r="2" fill="#fff"/><circle cx="8" cy="-8" r="2" fill="#fff"/>');
ic(27,144,'<path d="M-12,-8H12M-12,-3H12M-12,3H12M-12,8H12"/>');
ic(27,181,'<path d="M-8,8L-5,-7L7,7L9,-8M-8,8L7,7"/><circle cx="-8" cy="8" r="2" fill="#fff"/><circle cx="-5" cy="-7" r="2" fill="#fff"/><circle cx="7" cy="7" r="2" fill="#fff"/><circle cx="9" cy="-8" r="2" fill="#fff"/>');
ic(27,219,'<path d="M-11,-9H-5M-3,-9H11M-11,0H2M5,0H11M-11,9H-8M-6,9H11M-4,-9V-2M3,0V6"/>');
ic(27,258,'<path d="M-10,8C-8,-2 -2,-2 2,2C4,4 6,6 8,6M-2,4L10,-8" />');
ic(27,295,'<path d="M-7,-8H7M0,-8V9M-3,9H3M-7,-8V-5M7,-8V-5"/>');
ic(27,333,'<circle r="9"/><circle cx="-3" cy="-2" r="1" fill="#131722"/><circle cx="3" cy="-2" r="1" fill="#131722"/><path d="M-4,3Q0,7 4,3"/>');
[358,447,650].forEach(y=>box('g',14,y,26,1,'background:#e0e3eb'));
ic(27,383,'<path d="M-10,6L6,-10L10,-6L-6,10ZM-5,1L-3,3M-2,-2L0,0M1,-5L3,-3"/>');
ic(27,421,'<circle cx="-2" cy="-2" r="7"/><path d="M3,3L9,9M-5,-2H1M-2,-5V1"/>');
ic(27,473,'<path d="M-7,8V-2A7,7 0 0 1 7,-2V8H3V-2A3,3 0 0 0 -3,-2V8ZM-7,4H-3M3,4H7"/>');
ic(27,510,'<path d="M-9,8L-8,4L2,-6L5,-3L-5,7ZM3,3H9V9H3ZM4,3V0A2,2 0 0 1 8,0V3"/>');
ic(27,548,'<rect x="-6" y="-1" width="12" height="9" rx="1"/><path d="M-3,-1V-5A3,3 0 0 1 3,-5"/>');
ic(27,587,'<path d="M-10,0Q0,-9 10,0Q0,9 -10,0Z"/><circle r="3"/>');
ic(27,626,'<g transform="rotate(-45)"><rect x="-10" y="-3" width="10" height="6" rx="3"/><rect x="0" y="-3" width="10" height="6" rx="3"/></g>');
ic(27,676,'<path d="M-8,-7H8M-6,-7V9H6V-7M-3,-7V-9H3V-7M-2,-3V6M2,-3V6"/>');
add('<div class="a" style="left:9px;top:1025px;width:34px;height:34px;background:#2e2e2e;border-radius:5px"></div>');
ic(26,1042,'<path d="M0,-8L2.4,-2.6L8,-2L3.7,1.7L5,7.5L0,4.6L-5,7.5L-3.7,1.7L-8,-2L-2.4,-2.6Z" stroke="#fff"/>');
// right toolbar
ic(1058,66,'<path d="M-9,-10H9V10L0,6L-9,10ZM-5,-5H5M-5,-1H5M-5,3H5"/>');
ic(1058,111,'<circle r="9"/><path d="M0,-5V1H-4M-10,-9L-7,-11M10,-9L7,-11M-6,8L-8,11M6,8L8,11"/>');
ic(1058,158,'<path d="M0,-9L10,-3L0,3L-10,-3ZM-10,1L0,7L10,1"/>');
ic(1058,203,'<path d="M-11,-8H11V7H-3L-8,11V7H-11Z"/>');
add('<div class="badge" style="left:1060px;top:185px;width:8px">1</div>');
ic(1058,772,'<circle r="12"/><circle r="7"/><path d="M-2,2L5,-5"/>');
ic(1058,815,'<path d="M-11,2L0,-9L11,2L5,-1L0,4L-5,0ZM-11,9H11M-11,4V9M11,4V9"/>');
ic(1058,860,'<rect x="-10" y="-8" width="20" height="18" rx="2"/><path d="M-10,-3H10M-5,-11V-6M5,-11V-6"/>');
ic(1058,910,'<path d="M-9,-5A14,14 0 0 1 9,9M-9,0A9,9 0 0 1 4,9"/><circle cx="-8" cy="8" r="1.5" fill="#131722"/>');
add('<div class="badge" style="left:1047px;top:888px;width:26px;padding:0 2px">99+</div>');
ic(1058,954,'<path d="M-8,6V-2A8,8 0 0 1 8,-2V6L10,8H-10ZM-2,8A2,2 0 0 0 2,8"/>');
add('<div class="badge" style="left:1055px;top:934px;width:16px">60</div>');
add('<div class="a" style="left:1041px;top:981px;width:34px;height:34px;background:#2e2e2e;border-radius:50%"></div>');
ic(1058,998,[-6,0,6].flatMap(a=>[-6,0,6].map(b=>`<circle cx="${a}" cy="${b}" r="1.9" fill="#fff" stroke="none"/>`)).join(''));
ic(1058,1055,'<circle r="13"/><path d="M-4,-3A4,4 0 1 1 1,1Q0,2 0,4M0,6.5V7.5"/>');
// bottom bar
[['1D',79],['5D',109],['1M',140],['3M',172],['6M',204],['YTD',239],['1Y',272],['All',301]].forEach(a=>text(a[0],a[1],1061));
box('g',322,1050,1,21,'background:#e0e3eb');
ic(342,1061,'<rect x="-9" y="-7" width="18" height="16" rx="2"/><path d="M-9,-2H9M-5,-10V-5M5,-10V-5M-3,4H3M1,2L3,4L1,6"/>');
text('13:17:46 UTC+8',924,1061);
box('g',983,1050,1,21,'background:#e0e3eb');
text('ADJ',1008,1061);
</script>
</body></html>
